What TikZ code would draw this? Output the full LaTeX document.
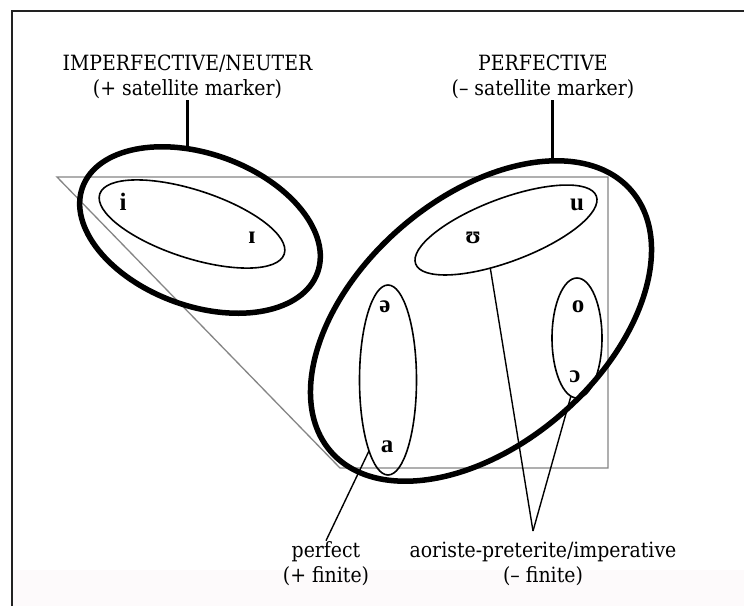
\documentclass[tikz,border=0pt]{standalone}
\usepackage{fontspec}
\setmainfont{DejaVu Serif Condensed}
\newfontfamily\ipafont{Liberation Serif}
\usetikzlibrary{shapes.geometric}
\definecolor{framec}{HTML}{222222}
\definecolor{trapc}{HTML}{858585}
\definecolor{pinkbg}{HTML}{FDFAFB}
\begin{document}
\begin{tikzpicture}[x=1pt,y=-1pt,
  thickell/.style={ellipse, draw, line width=5.5pt, inner sep=0pt, outer sep=0pt},
  thinell/.style={ellipse, draw, line width=1.6pt, inner sep=0pt, outer sep=0pt},
  vowel/.style={font=\ipafont\bfseries\fontsize{25}{25}\selectfont, inner sep=0pt},
  lbl/.style={align=center, font=\fontsize{21}{25}\selectfont, inner sep=1pt},
  conn/.style={line width=1.4pt},
  stem/.style={line width=2.8pt},
  ]
\useasboundingbox (0,0) rectangle (744,606);
\fill[white] (0,0) rectangle (744,606);
\fill[pinkbg] (13,570) rectangle (744,606);
\draw[line width=2pt, framec] (12,606) -- (12,11) -- (744,11);

% vowel-space trapezoid
\draw[trapc, line width=1.3pt, line join=miter] (57,177) -- (608,177) -- (608,468) -- (340,468) -- cycle;

% ellipses
\node[thickell, minimum width=250pt, minimum height=152pt, rotate=-20] (bigL) at (200,230) {};
\node[thinell, minimum width=194pt, minimum height=68pt, rotate=-18] (inL) at (192,224) {};
\node[thickell, minimum width=398pt, minimum height=246pt, rotate=41] (bigR) at (481,321) {};
\node[thinell, minimum width=193pt, minimum height=63pt, rotate=20.6] (uu) at (506,230) {};
\node[thinell, minimum width=57pt, minimum height=190pt] (ea) at (388,380) {};
\node[thinell, minimum width=50pt, minimum height=120pt] (oo) at (577,338) {};

% vowels
\node[vowel] (vi) at (123,202) {i};
\node[vowel] (vI) at (252,238) {ɪ};
\node[vowel] (vu) at (577,205) {u};
\node[vowel] (vU) at (473,238) {ʊ};
\node[vowel] (vschwa) at (385,307) {ə};
\node[vowel] (va) at (387,447) {a};
\node[vowel] (vo) at (578,307) {o};
\node[vowel] (vO) at (575,377) {ɔ};

% labels
\node[lbl] (lblL) at (187.5,77) {IMPERFECTIVE/NEUTER\\(+ satellite marker)};
\node[lbl] (lblR) at (543,77) {PERFECTIVE\\(– satellite marker)};
\node[lbl] (perf) at (326,564) {perfect\\(+ finite)};
\node[lbl] (aor) at (543,564) {aoriste-preterite/imperative\\(– finite)};

% stems from labels
\draw[stem] (bigL.119) -- (bigL.119 |- lblL.south);
\draw[stem] (bigR.25) -- (bigR.25 |- lblR.south);

% connectors
\coordinate (conv) at (533,531);
\draw[conn] (uu.227) -- (conv);
\draw[conn] (oo.264) -- (conv);
\draw[conn] (ea.255) -- (perf.north);
\end{tikzpicture}
\end{document}
